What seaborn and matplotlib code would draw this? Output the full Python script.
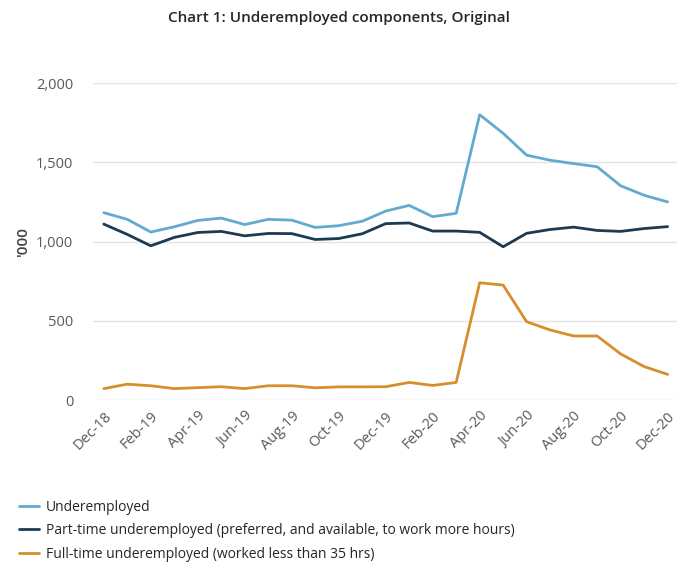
import numpy as np
import pandas as pd
import seaborn as sns
import matplotlib.pyplot as plt

months = ['Dec-18', 'Jan-19', 'Feb-19', 'Mar-19', 'Apr-19', 'May-19', 'Jun-19', 'Jul-19', 'Aug-19',
          'Sep-19', 'Oct-19', 'Nov-19', 'Dec-19', 'Jan-20', 'Feb-20', 'Mar-20', 'Apr-20', 'May-20',
          'Jun-20', 'Jul-20', 'Aug-20', 'Sep-20', 'Oct-20', 'Nov-20', 'Dec-20']
underemployed = [1182, 1140, 1060, 1093, 1133, 1148, 1107, 1140, 1135, 1089, 1100, 1128, 1192,
                 1228, 1157, 1178, 1800, 1683, 1545, 1513, 1492, 1472, 1352, 1292, 1250]
part_time = [1110, 1045, 973, 1026, 1057, 1064, 1036, 1051, 1050, 1013, 1019, 1049, 1113,
             1117, 1066, 1066, 1058, 967, 1052, 1076, 1091, 1070, 1064, 1082, 1094]
full_time = [72, 100, 90, 72, 78, 84, 72, 90, 90, 77, 83, 83, 84,
             111, 92, 111, 740, 725, 494, 442, 404, 404, 291, 211, 162]

names = ['Underemployed',
         'Part-time underemployed (preferred, and available, to work more hours)',
         'Full-time underemployed (worked less than 35 hrs)']
colors = ['#62abcf', '#1d3a52', '#d58f2b']

df = pd.DataFrame({'idx': np.arange(len(months)), 'month': months,
                   names[0]: underemployed, names[1]: part_time, names[2]: full_time})
long = df.melt(id_vars=['idx', 'month'], var_name='series', value_name='value')

sns.set_style('white')
plt.rcParams['font.family'] = ['Open Sans', 'DejaVu Sans']

fig = plt.figure(figsize=(6.77, 5.65), dpi=100)
ax = fig.add_axes([0.137, 0.292, 0.863, 0.561])
sns.lineplot(data=long, x='idx', y='value', hue='series', palette=colors,
             linewidth=2, ax=ax, legend=False)

ax.set_ylim(0, 2000)
ax.set_yticks([0, 500, 1000, 1500, 2000])
ax.set_yticklabels(['0', '500', '1,000', '1,500', '2,000'])
ax.set_xlim(-0.47, 24.4)
ax.set_xticks(df['idx'][::2])
ax.set_xticklabels(months[::2], rotation=45, ha='right', rotation_mode='anchor')
ax.grid(axis='y', color='#e3e3e3', linewidth=1)
for s in ax.spines.values():
    s.set_visible(False)
ax.tick_params(axis='both', length=0, labelsize=10.5, labelcolor='#595959')
ax.tick_params(axis='y', pad=14)
ax.tick_params(axis='x', pad=6)
ax.set_xlabel('')
ax.set_ylabel("'000", fontsize=11, color='#404040', fontweight='semibold')
ax.yaxis.set_label_coords(-0.108, 0.5)

fig.suptitle('Chart 1: Underemployed components, Original', x=0.5, y=0.98,
             fontsize=11, fontweight='semibold', color='#262626')

handles = [plt.Line2D([], [], color=c, linewidth=2) for c in colors]
fig.legend(handles, names, loc='upper left', bbox_to_anchor=(0.01, 0.138), frameon=False,
           fontsize=10, labelcolor='#262626', handlelength=1.4, handletextpad=0.5,
           labelspacing=0.62)

fig.savefig('out.png', dpi=100)
